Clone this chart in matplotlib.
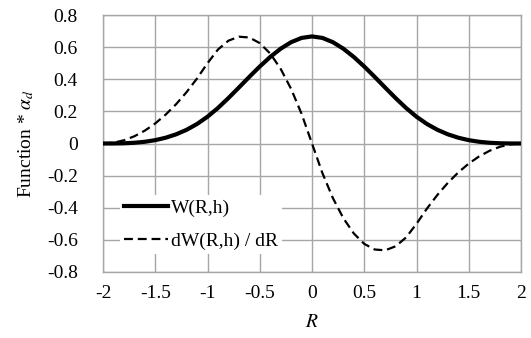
import matplotlib.pyplot as plt

plt.rcParams['font.family'] = ['Liberation Serif', 'DejaVu Serif']
plt.rcParams['mathtext.fontset'] = 'stix'

# R values (step 0.1)
r_vals = [-2.0, -1.9, -1.8, -1.7, -1.6, -1.5, -1.4, -1.3, -1.2, -1.1,
          -1.0, -0.9, -0.8, -0.7, -0.6, -0.5, -0.4, -0.3, -0.2, -0.1,
          0.0, 0.1, 0.2, 0.3, 0.4, 0.5, 0.6, 0.7, 0.8, 0.9,
          1.0, 1.1, 1.2, 1.3, 1.4, 1.5, 1.6, 1.7, 1.8, 1.9, 2.0]

# W(R,h)
w_vals = [0.0, 0.0002, 0.0013, 0.0045, 0.0107, 0.0208, 0.036, 0.0572, 0.0853, 0.1215,
          0.1667, 0.2212, 0.2827, 0.3482, 0.4147, 0.4792, 0.5387, 0.5902, 0.6307, 0.6572,
          0.6667, 0.6572, 0.6307, 0.5902, 0.5387, 0.4792, 0.4147, 0.3482, 0.2827, 0.2212,
          0.1667, 0.1215, 0.0853, 0.0572, 0.036, 0.0208, 0.0107, 0.0045, 0.0013, 0.0002, 0.0]

# dW(R,h)/dR
dw_vals = [0.0, 0.005, 0.02, 0.045, 0.08, 0.125, 0.18, 0.245, 0.32, 0.405,
           0.5, 0.585, 0.64, 0.665, 0.66, 0.625, 0.56, 0.465, 0.34, 0.185,
           0.0, -0.185, -0.34, -0.465, -0.56, -0.625, -0.66, -0.665, -0.64, -0.585,
           -0.5, -0.405, -0.32, -0.245, -0.18, -0.125, -0.08, -0.045, -0.02, -0.005, 0.0]

x_ticks = [-2, -1.5, -1, -0.5, 0, 0.5, 1, 1.5, 2]
x_labels = ['-2', '-1.5', '-1', '-0.5', '0', '0.5', '1', '1.5', '2']
y_ticks = [-0.8, -0.6, -0.4, -0.2, 0, 0.2, 0.4, 0.6, 0.8]
y_labels = ['-0.8', '-0.6', '-0.4', '-0.2', '0', '0.2', '0.4', '0.6', '0.8']

fs = 14

fig = plt.figure(figsize=(5.31, 3.38), dpi=100)
ax = fig.add_axes([103 / 531, 1 - 272 / 338, 418 / 531, 257 / 338])

ax.plot(r_vals, w_vals, color='black', lw=3, label='W(R,h)', zorder=3)
ax.plot(r_vals, dw_vals, color='black', lw=1.6, ls=(0, (4, 2.2)), label='dW(R,h) / dR', zorder=3)

ax.set_xlim(-2, 2)
ax.set_ylim(-0.8, 0.8)
ax.set_xticks(x_ticks)
ax.set_xticklabels(x_labels)
ax.set_yticks(y_ticks)
ax.set_yticklabels(y_labels)
ax.tick_params(length=0, labelsize=fs)
ax.tick_params(axis='y', pad=18)
ax.tick_params(axis='x', pad=9)
ax.grid(True, color='#a6a6a6', lw=1)
ax.set_axisbelow(True)
for s in ax.spines.values():
    s.set_color('#a6a6a6')
    s.set_linewidth(1)

ax.set_xlabel('$R$', fontsize=fs, labelpad=9)
ax.set_ylabel(r'Function * $\alpha_d$', fontsize=fs, labelpad=8)

leg = ax.legend(loc='lower left', bbox_to_anchor=(0.04, 0.07), frameon=True,
                fontsize=fs, handlelength=2.3, handletextpad=0.15,
                labelspacing=0.8, borderpad=0.2, borderaxespad=0)
leg.get_frame().set_edgecolor('none')
leg.get_frame().set_facecolor('white')
leg.get_frame().set_alpha(1)

fig.savefig('out.png', dpi=100)
